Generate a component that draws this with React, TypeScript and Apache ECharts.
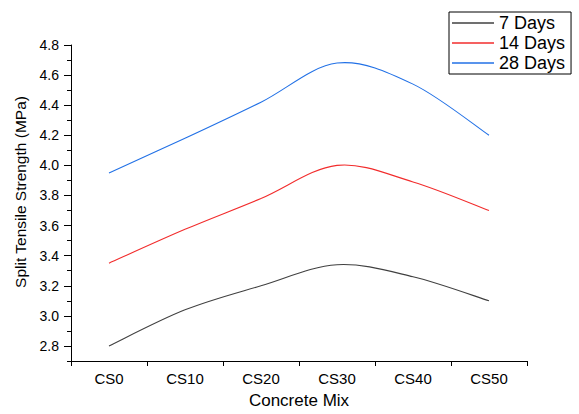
import React, { useEffect, useRef } from "react";
import * as echarts from "echarts";

const categories = ["CS0", "CS10", "CS20", "CS30", "CS40", "CS50"];
const days7 = [2.8, 3.04, 3.2, 3.34, 3.26, 3.1];
const days14 = [3.35, 3.575, 3.78, 4.0, 3.89, 3.7];
const days28 = [3.95, 4.18, 4.42, 4.68, 4.54, 4.2];
const seriesNames = ["7 Days", "14 Days", "28 Days"];
const yMajorTicks = [2.8, 3.0, 3.2, 3.4, 3.6, 3.8, 4.0, 4.2, 4.4, 4.6, 4.8];
const yMinorTicks = [2.7, 2.9, 3.1, 3.3, 3.5, 3.7, 3.9, 4.1, 4.3, 4.5, 4.7];
const yMin = 2.7;
const yMax = 4.8;

const FONT = "Liberation Sans, Arial, sans-serif";

function splineSeries(name: string, vals: number[], color: string) {
  return {
    name,
    type: "custom",
    data: vals.map((v, i) => [i, v]),
    encode: { x: 0, y: 1 },
    color,
    itemStyle: { color },
    clip: false,
    renderItem: (params: any, api: any) => {
      const i = params.dataIndex;
      const n = vals.length;
      if (i >= n - 1) return { type: "group", children: [] };
      const p = (k: number) => {
        const kk = Math.max(0, Math.min(n - 1, k));
        return api.coord([kk, vals[kk]]);
      };
      const p0 = p(i - 1);
      const p1 = p(i);
      const p2 = p(i + 1);
      const p3 = p(i + 2);
      const c1x = p1[0] + (p2[0] - p0[0]) / 6;
      const c1y = p1[1] + (p2[1] - p0[1]) / 6;
      const c2x = p2[0] - (p3[0] - p1[0]) / 6;
      const c2y = p2[1] - (p3[1] - p1[1]) / 6;
      const d = `M${p1[0]},${p1[1]} C${c1x},${c1y} ${c2x},${c2y} ${p2[0]},${p2[1]}`;
      return {
        type: "path",
        shape: { pathData: d },
        style: { stroke: color, fill: "none", lineWidth: 1.1 },
      };
    },
  };
}

export default function App() {
  const ref = useRef<HTMLDivElement>(null);
  useEffect(() => {
    if (!ref.current) return;
    const chart = echarts.init(ref.current, undefined, { renderer: "svg" });
    const colors = ["#404040", "#f22c2c", "#2271e6"];
    const data = [days7, days14, days28];
    chart.setOption({
      animation: false,
      backgroundColor: "#fff",
      textStyle: { fontFamily: FONT },
      grid: { left: 71, top: 45, right: 52, bottom: 50 },
      legend: {
        orient: "vertical",
        left: 449,
        top: 12,
        padding: [1, 6, 1, 3],
        itemGap: 0,
        itemWidth: 42,
        itemHeight: 1.5,
        icon: "rect",
        borderColor: "#000",
        borderWidth: 1,
        borderRadius: 0,
        textStyle: { fontSize: 18, color: "#000", fontFamily: FONT, lineHeight: 20 },
        data: seriesNames,
      },
      xAxis: {
        type: "category",
        data: categories,
        boundaryGap: true,
        name: "Concrete Mix",
        nameLocation: "middle",
        nameGap: 31,
        nameTextStyle: { fontSize: 17, color: "#000", fontFamily: FONT },
        axisLine: { lineStyle: { color: "#000", width: 1 } },
        axisTick: { show: true, length: 5, inside: false, alignWithLabel: false, lineStyle: { color: "#000" } },
        axisLabel: { fontSize: 15, color: "#000", margin: 10, fontFamily: FONT },
        splitLine: { show: false },
      },
      yAxis: [
        {
          type: "value",
          min: yMin,
          max: yMax,
          name: "Split Tensile Strength (MPa)",
          nameLocation: "middle",
          nameGap: 40,
          nameTextStyle: { fontSize: 15.5, color: "#000", fontFamily: FONT, padding: [0, 0, 0, 22] },
          axisLine: { show: true, lineStyle: { color: "#000", width: 1 } },
          axisTick: { show: true, length: 7, customValues: yMajorTicks, lineStyle: { color: "#000" } },
          axisLabel: {
            fontSize: 14,
            color: "#000",
            margin: 12,
            fontFamily: FONT,
            customValues: yMajorTicks,
            formatter: (v: number) => v.toFixed(1),
          },
          splitLine: { show: false },
        },
        {
          type: "value",
          min: yMin,
          max: yMax,
          position: "left",
          axisLine: { show: false },
          axisTick: { show: true, length: 4, customValues: yMinorTicks, lineStyle: { color: "#000" } },
          axisLabel: { show: false, customValues: yMinorTicks },
          splitLine: { show: false },
        },
      ],
      series: seriesNames.map((n, i) => splineSeries(n, data[i], colors[i])),
    });
    return () => chart.dispose();
  }, []);
  return <div ref={ref} style={{ width: 579, height: 414, position: "absolute", left: 0, top: 0 }} />;
}
